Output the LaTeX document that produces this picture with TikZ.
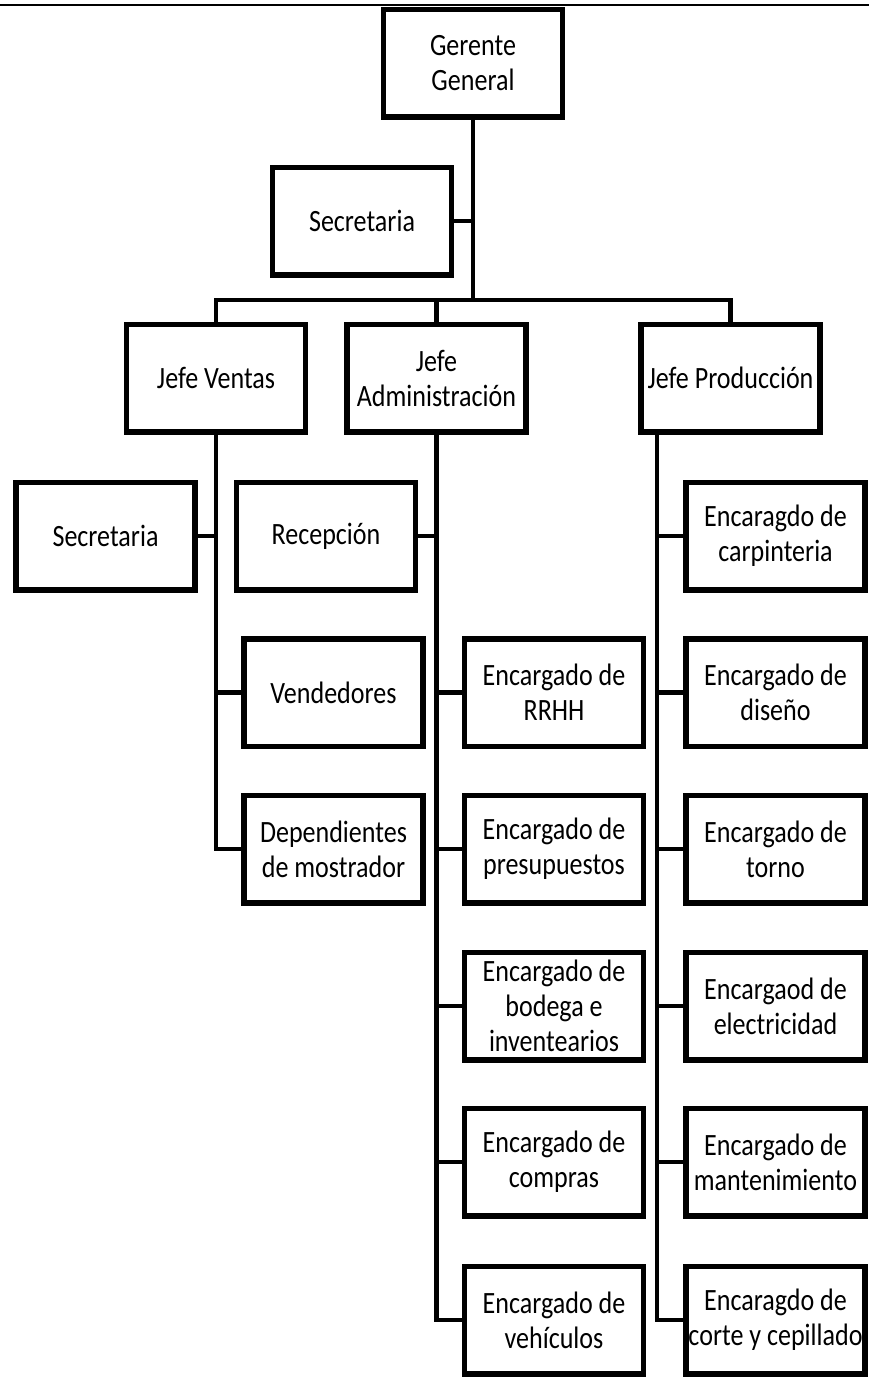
\documentclass[tikz,border=0pt]{standalone}
\usepackage{fontspec}
\setmainfont{Carlito}[FakeStretch=0.84]
\begin{document}
\begin{tikzpicture}[x=1pt,y=-1pt,
  box/.style={draw=black,line width=5.5pt,fill=white,rectangle,minimum width=179pt,minimum height=107.5pt,inner sep=0pt,align=center,font=\fontsize{31}{35}\selectfont},
  conn/.style={draw=black,line width=4.5pt}]
\useasboundingbox (0,0) rectangle (869,1379);
\coordinate (tl) at (0,5);
\coordinate (tr) at (869,5);
\draw[line width=2pt] (tl) -- (tr);
% boxes
\node[box] (gg) at (473,63) {Gerente\\General};
\node[box] (s1) at (362,221) {Secretaria};
\node[box] (jv) at (216,378) {Jefe Ventas};
\node[box] (ja) at (436.5,378) {Jefe\\Administración};
\node[box] (jp) at (730.5,378) {Jefe Producción};
\node[box] (s2) at (105.5,536) {Secretaria};
\node[box] (rec) at (326,536) {Recepción};
\node[box] (ven) at (333.5,692.5) {Vendedores};
\node[box] (dep) at (333.5,849) {Dependientes\\de mostrador};
\node[box] (a1) at (554,692.5) {Encargado de\\RRHH};
\node[box] (a2) at (554,849) {Encargado de\\presupuestos};
\node[box] (a3) at (554,1006) {Encargado de\\bodega e\\inventearios};
\node[box] (a4) at (554,1162) {Encargado de\\compras};
\node[box] (a5) at (554,1320) {Encargado de\\vehículos};
\node[box] (p1) at (775.5,536) {Encaragdo de\\carpinteria};
\node[box] (p2) at (775.5,692.5) {Encargado de\\diseño};
\node[box] (p3) at (775.5,849) {Encargado de\\torno};
\node[box] (p4) at (775.5,1006) {Encargaod de\\electricidad};
\node[box] (p5) at (775.5,1162) {Encargado de\\mantenimiento};
\node[box] (p6) at (775.5,1320) {Encaragdo de\\corte y cepillado};
% connectors
\coordinate (bar) at (473,300);
\draw[conn] (gg.south) -- (bar);
\draw[conn] (s1.east) -- (s1.east -| gg.south);
\draw[conn] (jv.north) |- (jp.north |- bar) -- (jp.north);
\draw[conn] (ja.north) -- (ja.north |- bar);
\draw[conn] (jv.south) |- (dep.west);
\draw[conn] (s2.east) -- (s2.east -| jv.south);
\draw[conn] (ven.west) -- (ven.west -| jv.south);
\draw[conn] (ja.south) |- (a5.west);
\draw[conn] (rec.east) -- (rec.east -| ja.south);
\foreach \n in {a1,a2,a3,a4} \draw[conn] (\n.west) -- (\n.west -| ja.south);
\coordinate (jpl) at ([xshift=-73.5pt]jp.south);
\draw[conn] (jpl) |- (p6.west);
\foreach \n in {p1,p2,p3,p4,p5} \draw[conn] (\n.west) -- (\n.west -| jpl);
\end{tikzpicture}
\end{document}
